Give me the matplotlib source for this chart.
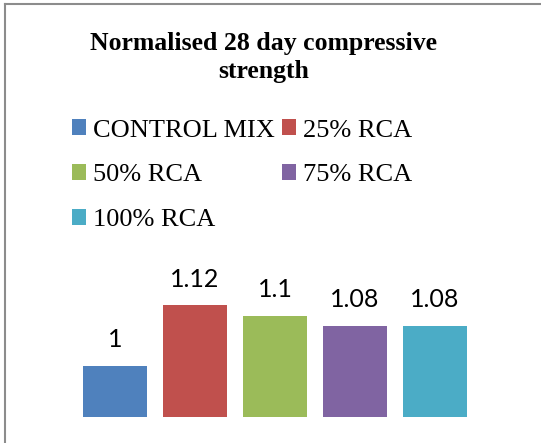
import matplotlib
matplotlib.use("Agg")
import matplotlib.pyplot as plt
from matplotlib.patches import Patch
from matplotlib.lines import Line2D

categories = ["CONTROL MIX", "25% RCA", "50% RCA", "75% RCA", "100% RCA"]
values = [1.00, 1.12, 1.10, 1.08, 1.08]
value_labels = ["1", "1.12", "1.1", "1.08", "1.08"]
colors = ["#4F81BD", "#C0504D", "#9BBB59", "#8064A2", "#4BACC6"]
title = "Normalised 28 day compressive\nstrength"

fig = plt.figure(figsize=(5.41, 4.43), dpi=100)
fig.patch.set_facecolor("white")

ax = fig.add_axes([75/541, 1-416.7/443, 400/541, (416.7-290.2)/443])
x = list(range(len(categories)))
bars = ax.bar(x, values, width=0.8, color=colors, bottom=0)
ax.set_ylim(0.9, 1.15)
ax.set_xlim(-0.5, len(categories)-0.5)
ax.axis("off")

for xi, v, lab in zip(x, values, value_labels):
    ax.annotate(lab, (xi, v), xytext=(0, 13.5), textcoords="offset points",
                ha="center", va="baseline", fontsize=18, family="Lato",
                color="black", annotation_clip=False)

fig.text(264/541, 1-32/443, title, ha="center", va="top",
         fontsize=18.5, fontweight="bold", family="Liberation Serif",
         linespacing=1.3)

handles = [Patch(facecolor=c, edgecolor="none") for c in colors]
order = [0, 2, 4, 1, 3]
leg = fig.legend([handles[i] for i in order], [categories[i] for i in order],
                 ncol=2, loc="upper left", bbox_to_anchor=(72/541, 1-119.5/443),
                 frameon=False, prop={"family": "Liberation Serif", "size": 19},
                 handlelength=0.53, handleheight=0.53, handletextpad=0.25,
                 labelspacing=0.86, columnspacing=0.3, borderpad=0, borderaxespad=0)

# outer border (left and top visible)
fig.add_artist(Line2D([5/541, 5/541], [0, 1-4/443], transform=fig.transFigure,
                      color="#8c8c8c", linewidth=1.5))
fig.add_artist(Line2D([5/541, 1], [1-4/443, 1-4/443], transform=fig.transFigure,
                      color="#8c8c8c", linewidth=1.5))

fig.savefig("out.png", dpi=100, facecolor="white")
